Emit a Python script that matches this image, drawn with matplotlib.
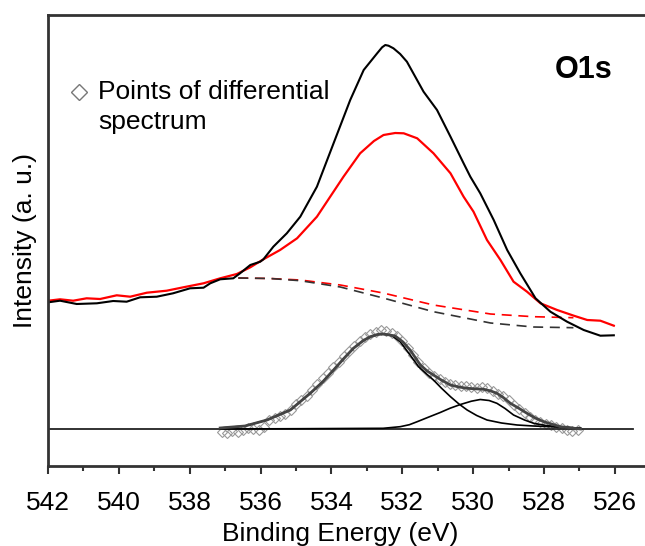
import numpy as np
import matplotlib.pyplot as plt

plt.rcParams['font.family'] = ['Liberation Sans', 'DejaVu Sans']

# ---------------------------------------------------------------
# Data (binding energy in eV, intensity a.u.)
# ---------------------------------------------------------------
e_black = [541.99, 541.66, 541.19, 540.62, 540.16, 539.78, 539.40, 538.93, 538.47,
           537.99, 537.61, 537.42, 537.14, 536.77, 536.58, 536.29, 536.01, 535.92,
           535.64, 535.26, 534.88, 534.41, 533.94, 533.47, 533.09, 532.71, 532.57,
           532.48, 532.39, 532.25, 532.06, 531.87, 531.40, 531.02, 530.64, 530.27,
           530.08, 529.80, 529.42, 529.04, 528.67, 528.24, 527.82, 527.35, 526.88,
           526.41, 526.03]
i_black = [163.7, 165.3, 162.0, 162.7, 165.0, 164.3, 168.7, 169.3, 172.7,
           177.7, 178.3, 182.7, 186.7, 187.7, 192.7, 201.0, 204.3, 206.7,
           219.3, 232.7, 249.3, 279.3, 322.7, 366.0, 396.0, 412.7, 418.7,
           421.0, 420.3, 417.7, 412.0, 404.3, 374.3, 356.0, 329.3, 302.7,
           289.3, 272.7, 246.0, 216.0, 192.7, 167.7, 154.3, 144.3, 136.0,
           130.3, 130.7]

e_red = [541.99, 541.66, 541.29, 540.91, 540.53, 540.06, 539.68, 539.21, 538.65,
         538.18, 537.61, 537.14, 536.67, 536.29, 535.92, 535.45, 534.97, 534.41,
         533.66, 533.19, 532.80, 532.53, 532.20, 531.96, 531.58, 531.12, 530.64,
         530.27, 529.99, 529.61, 529.23, 528.86, 528.48, 528.10, 527.63, 527.16,
         526.78, 526.41, 526.03]
i_red = [165.3, 166.7, 165.3, 167.7, 167.0, 170.7, 169.3, 173.3, 175.3,
         178.7, 182.7, 187.7, 192.0, 198.7, 206.7, 216.0, 227.7, 249.3,
         289.3, 312.7, 325.0, 331.0, 333.0, 332.7, 327.7, 312.7, 292.7,
         269.3, 254.3, 226.0, 206.0, 184.3, 174.3, 162.7, 156.0, 150.3,
         146.0, 145.3, 140.3]

# Shirley-type backgrounds (dashed)
e_bg = [536.63, 535.73, 534.88, 533.75, 532.54, 531.12, 529.51, 528.30, 527.17]
i_bg_red = [188.0, 187.5, 186.0, 181.0, 173.0, 161.0, 152.0, 149.3, 148.3]
i_bg_black = [188.0, 187.5, 185.3, 179.0, 168.0, 154.3, 143.0, 139.0, 138.3]

# differential spectrum: zero line, fitted components and envelope
e_base = [542.0, 525.5]
i_base = [37.0, 37.0]

e_c1 = [537.14, 536.44, 535.82, 535.16, 534.60, 534.25, 533.94, 533.65, 533.38,
        533.10, 532.90, 532.70, 532.57, 532.40, 532.28, 532.06, 531.80, 531.54,
        531.30, 531.12, 530.90, 530.64, 530.40, 530.17, 529.90, 529.61, 529.20,
        528.76, 528.30, 527.82, 526.97]
i_c1 = [38.0, 40.0, 46.0, 56.0, 72.7, 84.0, 96.0, 107.5, 117.7,
        125.5, 129.3, 131.5, 132.0, 131.3, 130.0, 124.3, 112.0, 99.3,
        91.5, 86.0, 78.0, 69.3, 62.0, 56.0, 50.5, 46.0, 43.0,
        41.0, 40.0, 39.3, 37.7]

e_c2 = [537.14, 534.88, 532.54, 532.06, 531.80, 531.58, 531.25, 530.93, 530.65,
        530.36, 530.05, 529.80, 529.55, 529.33, 529.10, 528.86, 528.55, 528.29,
        527.95, 527.63, 526.97]
i_c2 = [37.0, 37.3, 37.7, 39.3, 41.3, 44.3, 49.0, 53.5, 57.8,
        61.5, 64.8, 66.5, 65.5, 62.7, 57.5, 51.0, 46.0, 42.7,
        40.5, 39.3, 37.7]

e_sum = [537.14, 536.44, 535.82, 535.16, 534.60, 534.25, 533.94, 533.65, 533.38,
         533.10, 532.90, 532.70, 532.57, 532.40, 532.20, 531.98, 531.78, 531.49,
         531.30, 531.12, 530.90, 530.64, 530.40, 530.17, 529.95, 529.70, 529.50,
         529.33, 529.15, 528.95, 528.70, 528.48, 528.25, 528.01, 527.54, 526.97]
i_sum = [38.0, 40.0, 46.0, 56.0, 72.7, 84.0, 96.0, 107.5, 117.7,
         125.5, 129.3, 131.5, 132.0, 131.3, 130.0, 124.0, 116.0, 101.0,
         95.0, 91.0, 86.0, 81.0, 79.0, 77.7, 77.2, 76.7, 75.0,
         72.7, 68.5, 62.7, 57.5, 52.7, 48.0, 44.3, 39.3, 37.0]

e_pts = [537.10, 536.95, 536.80, 536.65, 536.50, 536.35, 536.20, 536.05, 535.90,
         535.75, 535.60, 535.45, 535.30, 535.15, 535.00, 534.85, 534.70, 534.55,
         534.40, 534.25, 534.10, 533.95, 533.80, 533.65, 533.50, 533.35, 533.20,
         533.05, 532.90, 532.75, 532.60, 532.45, 532.30, 532.15, 532.00, 531.85,
         531.70, 531.55, 531.40, 531.25, 531.10, 530.95, 530.80, 530.65, 530.50,
         530.35, 530.20, 530.05, 529.90, 529.75, 529.60, 529.45, 529.30, 529.15,
         529.00, 528.85, 528.70, 528.55, 528.40, 528.25, 528.10, 527.95, 527.80,
         527.65, 527.50, 527.35, 527.20, 527.05]
i_pts = [34, 33, 35, 34, 36, 38, 37, 36, 39,
         46, 48, 50, 52, 56, 62, 66, 70, 76,
         82, 88, 93, 99, 104, 110, 115, 120, 125,
         129, 132, 134, 136, 135, 133, 130, 125, 118,
         111, 104, 98, 93, 90, 87, 84, 82, 81,
         80, 80, 79, 78, 79, 78, 75, 72, 70,
         66, 61, 57, 53, 49, 46, 44, 42, 41,
         39, 38, 36, 35, 36]

# ---------------------------------------------------------------
# Figure
# ---------------------------------------------------------------
fig = plt.figure(figsize=(6.45, 5.46), dpi=100)
ax = fig.add_axes([48 / 645, 80 / 546, 1 - 48 / 645, 451 / 546])

ax.plot(e_pts, i_pts, linestyle='none', marker='D', markersize=5,
        markerfacecolor='none', markeredgecolor='#999999', markeredgewidth=0.8)
ax.plot(e_base, i_base, color='#222222', lw=1.3)
ax.plot(e_c1, i_c1, color='black', lw=1.2)
ax.plot(e_c2, i_c2, color='black', lw=1.2)
ax.plot(e_sum, i_sum, color='#444444', lw=2.0)

ax.plot(e_bg, i_bg_red, color='red', lw=1.2, dashes=(6, 4))
ax.plot(e_bg, i_bg_black, color='#333333', lw=1.2, dashes=(6, 4))
ax.plot(e_red, i_red, color='red', lw=1.6)
ax.plot(e_black, i_black, color='black', lw=1.5)

ax.set_xlim(542, 525.15)
ax.set_ylim(0, 451)
ax.set_xticks(np.arange(542, 525, -2))
ax.set_xticks(np.arange(541, 525, -2), minor=True)
ax.set_yticks([])
ax.tick_params(axis='x', which='major', direction='out', length=5.8, width=1.5,
               color='#333333', labelsize=19, pad=12)
ax.tick_params(axis='x', which='minor', direction='out', length=3.6, width=1.5,
               color='#333333')

for side in ['left', 'top', 'bottom']:
    ax.spines[side].set_color('#333333')
    ax.spines[side].set_linewidth(2)
ax.spines['right'].set_visible(False)

ax.set_xlabel('Binding Energy (eV)', fontsize=19)
ax.xaxis.set_label_coords((340 - 48) / 597, -0.124)
ax.set_ylabel('Intensity (a. u.)', fontsize=19)
ax.yaxis.set_label_coords(-0.0184, 0.5)

# legend-like annotation and panel label
ax.plot([541.13], [374], linestyle='none', marker='D', markersize=8,
        markerfacecolor='none', markeredgecolor='#777777', markeredgewidth=1)
ax.text((98 - 48) / 597, (466 - 92) / 451, 'Points of differential',
        transform=ax.transAxes, fontsize=19, va='center', ha='left')
ax.text((98 - 48) / 597, (466 - 122) / 451, 'spectrum',
        transform=ax.transAxes, fontsize=19, va='center', ha='left')
ax.text((584 - 48) / 597, (466 - 70) / 451, 'O1s', transform=ax.transAxes,
        fontsize=22, fontweight='bold', ha='center', va='center')

fig.savefig('out.png', dpi=100)
